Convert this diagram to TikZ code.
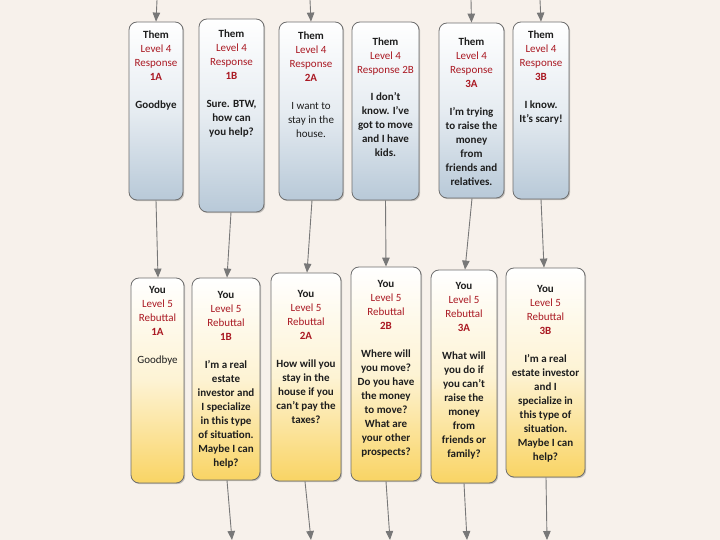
\documentclass[tikz,border=0pt]{standalone}
\usepackage{fontspec}
\setmainfont{Carlito}
\usetikzlibrary{arrows.meta,shadows}
\definecolor{bg}{RGB}{247,241,235}
\definecolor{rd}{RGB}{170,25,35}
\definecolor{bordg}{RGB}{110,110,110}
\definecolor{arrg}{RGB}{120,120,120}
\definecolor{bluebot}{RGB}{184,201,216}
\definecolor{yelbot}{RGB}{249,212,100}
\definecolor{bodyc}{RGB}{30,30,30}
\newcommand{\hdr}[4]{\textbf{#1}\\\textcolor{rd}{#2}\\\textcolor{rd}{#3}\\\textcolor{rd}{\textbf{#4}}\\[14pt]}
\tikzset{
  card/.style={draw=bordg, line width=0.8pt, rounded corners=8pt, inner sep=0pt,
    drop shadow={shadow xshift=1.2pt, shadow yshift=-1.2pt, opacity=0.35, fill=black!60}},
  themcard/.style={card, top color=white, bottom color=bluebot, middle color=bluebot!35!white},
  youcard/.style={card, top color=white, bottom color=yelbot, middle color=yelbot!28!white},
  txt/.style={anchor=north, align=center, inner sep=0pt, text=bodyc,
    font=\fontsize{11}{14}\selectfont},
  arr/.style={draw=arrg, line width=0.9pt, -{Triangle[width=7.5pt,length=9pt]}}
}
\begin{document}
\begin{tikzpicture}[x=1pt, y=-1pt]
\useasboundingbox (0,0) rectangle (720,540);
\fill[bg] (0,0) rectangle (720,540);

% top row boxes
\node[themcard, minimum width=54pt, minimum height=178pt] (t1a) at (156,111) {};
\node[themcard, minimum width=65pt, minimum height=193pt] (t1b) at (231.5,115.5) {};
\node[themcard, minimum width=64pt, minimum height=178pt] (t2a) at (311,111) {};
\node[themcard, minimum width=67pt, minimum height=178pt] (t2b) at (385.5,111) {};
\node[themcard, minimum width=65pt, minimum height=175pt] (t3a) at (471.5,110.5) {};
\node[themcard, minimum width=56pt, minimum height=177pt] (t3b) at (541,110.5) {};

% bottom row boxes
\node[youcard, minimum width=53pt, minimum height=205pt] (b1a) at (157.5,380.5) {};
\node[youcard, minimum width=68pt, minimum height=202pt] (b1b) at (226,379) {};
\node[youcard, minimum width=70pt, minimum height=208pt] (b2a) at (306,377) {};
\node[youcard, minimum width=70pt, minimum height=214pt] (b2b) at (386,374) {};
\node[youcard, minimum width=66pt, minimum height=213pt] (b3a) at (464,376.5) {};
\node[youcard, minimum width=79pt, minimum height=209pt] (b3b) at (545.5,372.5) {};

% top texts
\node[txt] (t1aT) at (156,30.5) {\hdr{Them}{Level 4}{Response}{1A}\textbf{Goodbye}};
\node[txt] (t1bT) at (231.5,29.5) {\hdr{Them}{Level 4}{Response}{1B}\textbf{Sure. BTW,}\\\textbf{how can}\\\textbf{you help?}};
\node[txt] (t2aT) at (311,31.5) {\hdr{Them}{Level 4}{Response}{2A}I want to\\stay in the\\house.};
\node[txt] (t2bT) at (385.5,37.5) {\textbf{Them}\\\textcolor{rd}{Level 4}\\\textcolor{rd}{Response 2B}\\[13pt]\textbf{I don't}\\\textbf{know. I've}\\\textbf{got to move}\\\textbf{and I have}\\\textbf{kids.}};
\node[txt] (t3aT) at (471.5,37.5) {\hdr{Them}{Level 4}{Response}{3A}\textbf{I'm trying}\\\textbf{to raise the}\\\textbf{money}\\\textbf{from}\\\textbf{friends and}\\\textbf{relatives.}};
\node[txt] (t3bT) at (541,30.5) {\hdr{Them}{Level 4}{Response}{3B}\textbf{I know.}\\\textbf{It's scary!}};

% bottom texts
\node[txt] (b1aT) at (157.5,286) {\hdr{You}{Level 5}{Rebuttal}{1A}Goodbye};
\node[txt] (b1bT) at (226,291) {\hdr{You}{Level 5}{Rebuttal}{1B}\textbf{I'm a real}\\\textbf{estate}\\\textbf{investor and}\\\textbf{I specialize}\\\textbf{in this type}\\\textbf{of situation.}\\\textbf{Maybe I can}\\\textbf{help?}};
\node[txt] (b2aT) at (306,290) {\hdr{You}{Level 5}{Rebuttal}{2A}\textbf{How will you}\\\textbf{stay in the}\\\textbf{house if you}\\\textbf{can't pay the}\\\textbf{taxes?}};
\node[txt] (b2bT) at (386,280) {\hdr{You}{Level 5}{Rebuttal}{2B}\textbf{Where will}\\\textbf{you move?}\\\textbf{Do you have}\\\textbf{the money}\\\textbf{to move?}\\\textbf{What are}\\\textbf{your other}\\\textbf{prospects?}};
\node[txt] (b3aT) at (464,282) {\hdr{You}{Level 5}{Rebuttal}{3A}\textbf{What will}\\\textbf{you do if}\\\textbf{you can't}\\\textbf{raise the}\\\textbf{money}\\\textbf{from}\\\textbf{friends or}\\\textbf{family?}};
\node[txt] (b3bT) at (545.5,285) {\hdr{You}{Level 5}{Rebuttal}{3B}\textbf{I'm a real}\\\textbf{estate investor}\\\textbf{and I}\\\textbf{specialize in}\\\textbf{this type of}\\\textbf{situation.}\\\textbf{Maybe I can}\\\textbf{help?}};

% free ends
\coordinate (i1a) at (157,0);
\coordinate (i2a) at (310,0);
\coordinate (i3a) at (471,0);
\coordinate (i3b) at (540,0);
\coordinate (o1b) at (232,540);
\coordinate (o2a) at (311,540);
\coordinate (o2b) at (390,540);
\coordinate (o3a) at (467,540);
\coordinate (o3b) at (547,540);

% incoming arrows
\draw[arr] (i1a) -- (t1a.north);
\draw[arr] (i2a) -- (t2a.north);
\draw[arr] (i3a) -- (t3a.north);
\draw[arr] (i3b) -- (t3b.north);

% between rows
\draw[arr] (t1a.south) -- ([xshift=0.5pt]b1a.north);
\draw[arr] ([xshift=-0.5pt]t1b.south) -- ([xshift=1pt]b1b.north);
\draw[arr] ([xshift=1pt]t2a.south) -- ([xshift=1pt]b2a.north);
\draw[arr] (t2b.south) -- (b2b.north);
\draw[arr] ([xshift=0.5pt]t3a.south) -- ([xshift=1pt]b3a.north);
\draw[arr] (t3b.south) -- ([xshift=-1.5pt]b3b.north);

% outgoing arrows
\draw[arr] ([xshift=1pt]b1b.south) -- (o1b);
\draw[arr] ([xshift=-1pt]b2a.south) -- (o2a);
\draw[arr] (b2b.south) -- (o2b);
\draw[arr] (b3a.south) -- (o3a);
\draw[arr] ([xshift=0.5pt]b3b.south) -- (o3b);
\end{tikzpicture}
\end{document}
